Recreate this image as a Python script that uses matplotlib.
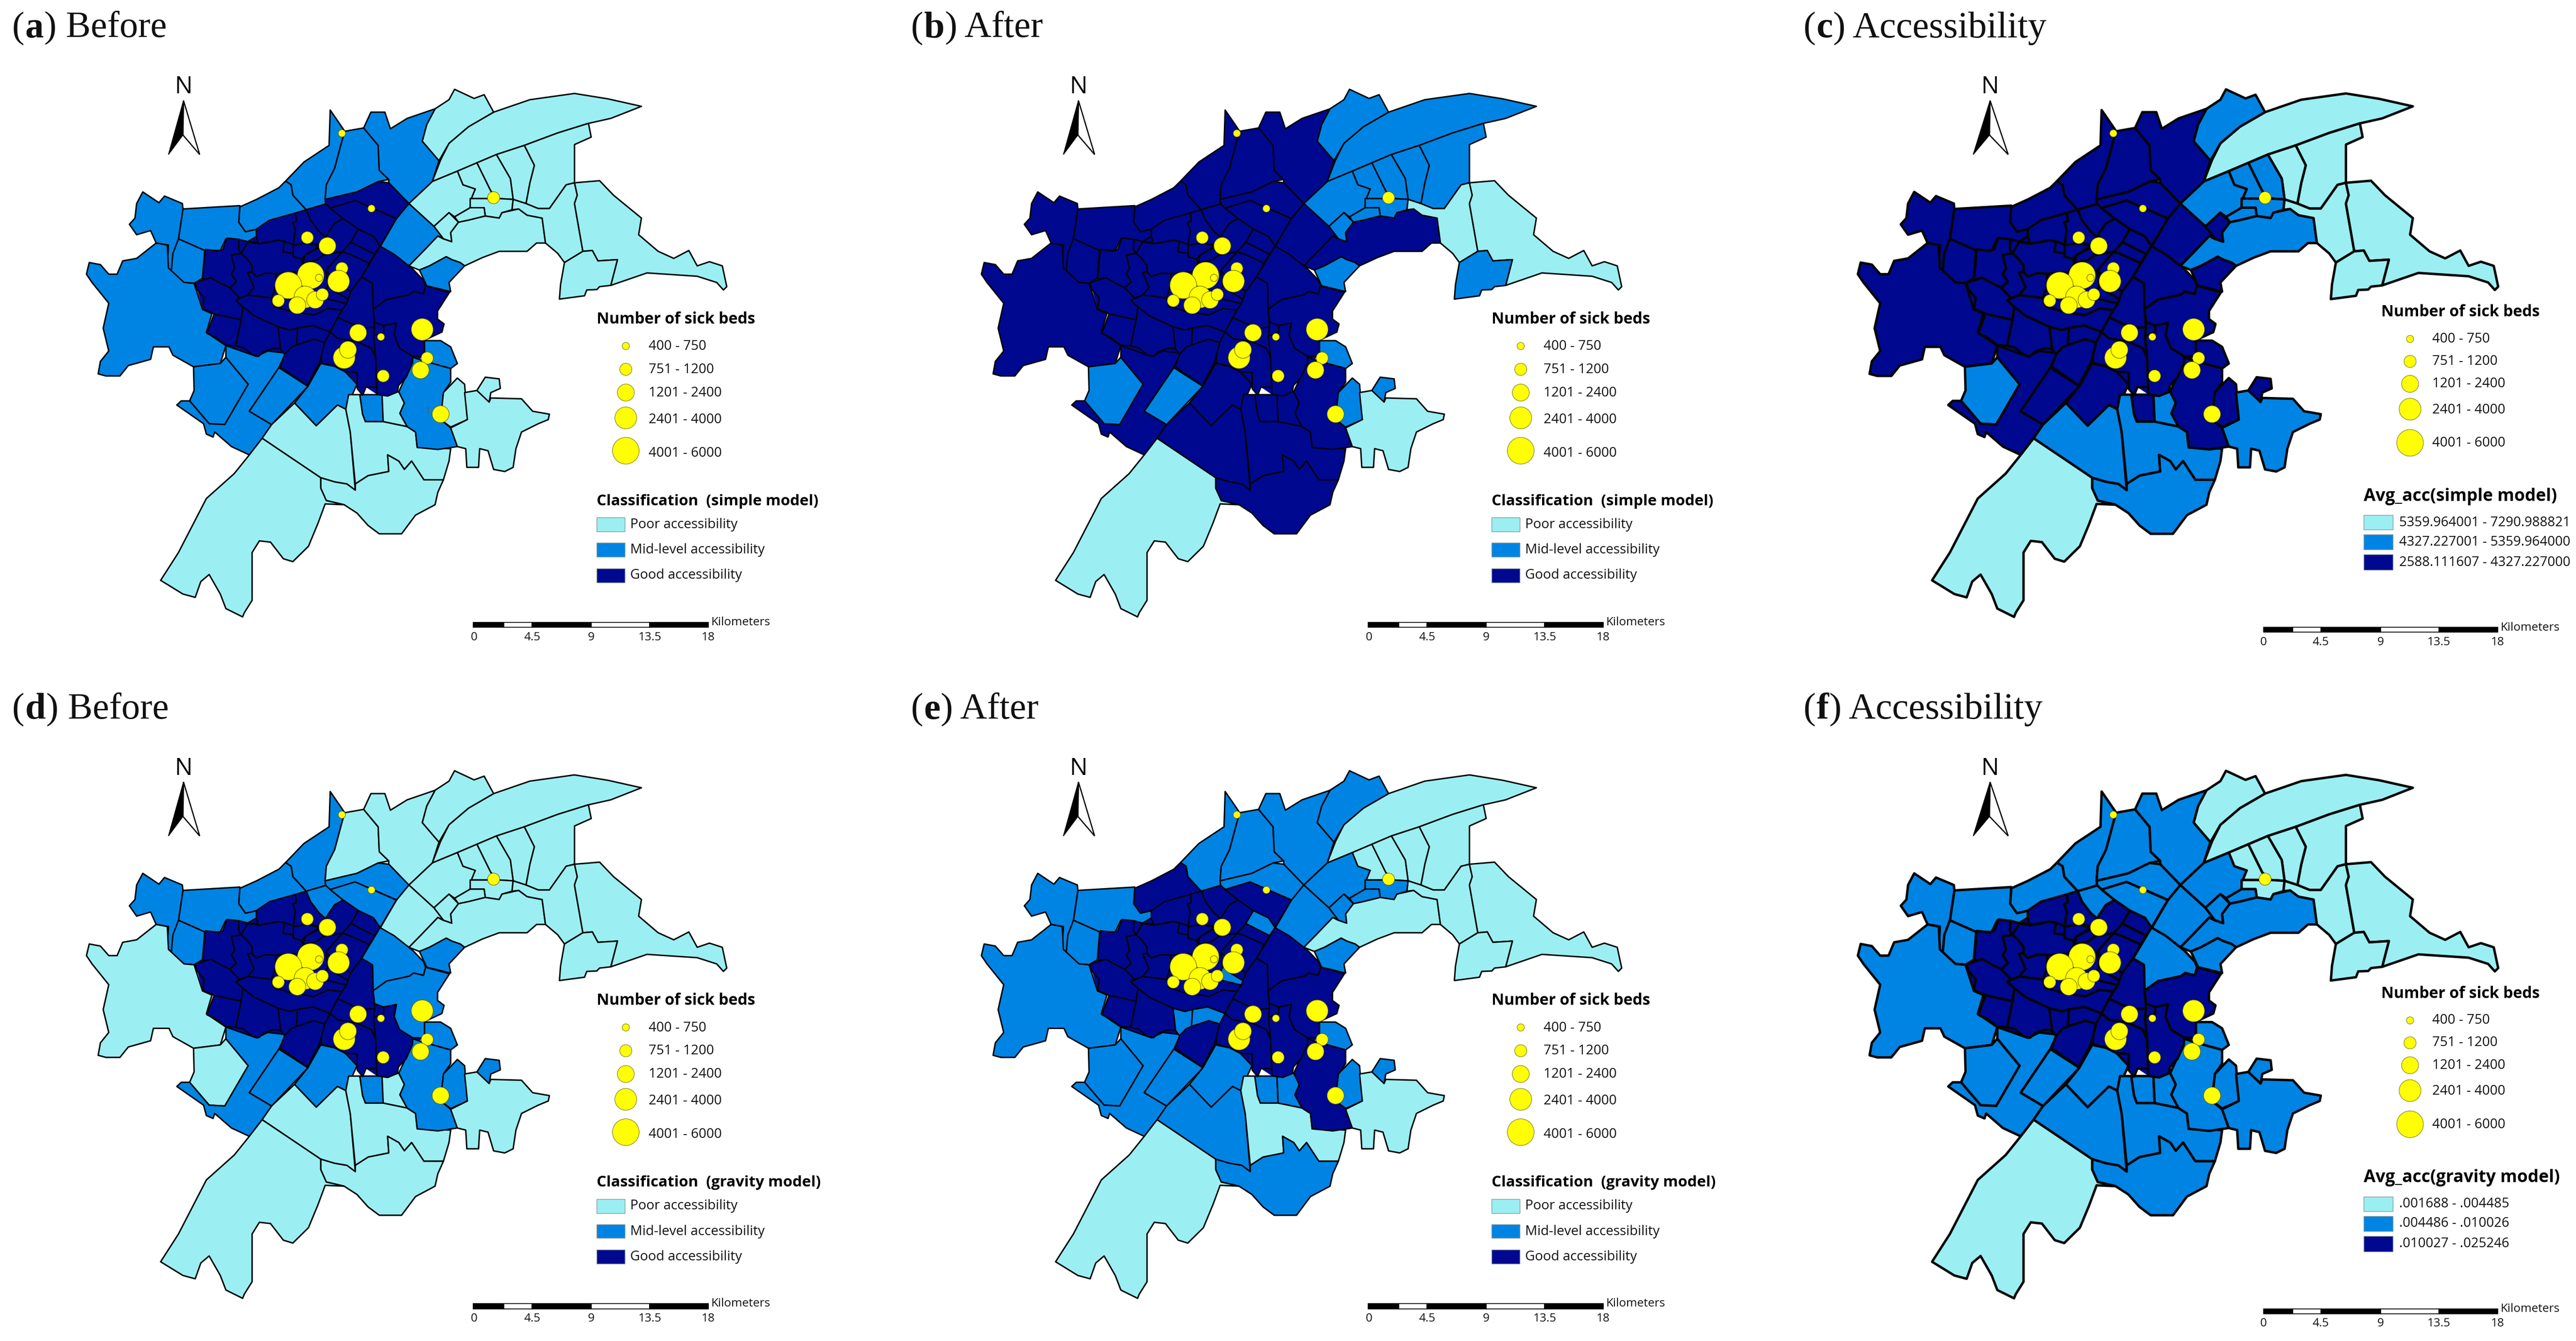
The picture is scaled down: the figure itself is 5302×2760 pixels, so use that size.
import matplotlib
matplotlib.use("Agg")
import matplotlib.pyplot as plt
from matplotlib.patches import Polygon, Rectangle

W, H, DPI = 5302, 2760, 100
PX_X, PX_Y = 1.148, 0.855   # map unit -> pixel
COL = {"P": "#9BEFF2", "M": "#0084E4", "G": "#000890"}
SANS = "Open Sans"
SERIF = "Liberation Serif"

def core(pts):
    # district corners noted in the finer grid of the city centre
    return [(261.3 + 0.389 * x, 467.8 + 0.39 * y) for x, y in pts]

# ------------------------------------------------------------ districts
DISTRICTS = {
 "core": core([(510,215),(570,160),(740,95),(830,60),(1210,65),(1155,150),(1080,320),(1145,370),(1280,530),(1400,605),(1345,720),(1345,770),(1375,800),(1365,850),(1285,900),(1285,1000),(1230,1040),(1165,1180),(1160,1220),(1065,1235),(1015,1190),(1000,1240),(975,1200),(920,1095),(810,1040),(745,1180),(620,1065),(640,988),(545,970),(490,990),(370,932),(282,858),(315,738),(262,705),(228,545),(262,525),(275,340),(355,340),(375,270),(470,292),(510,260)]),
 "ne_band": [(775,437),(790,385),(805,345),(840,305),(885,270),(950,240),(1030,225),(1090,238),(1150,256),(1095,285),(1055,297),(1000,320),(940,350),(890,372),(855,392),(820,412)],
 "north_top": [(757,340),(765,300),(780,262),(805,240),(815,215),(850,237),(868,228),(885,270),(840,305),(805,345),(787,387)],
 "ne_right": [(1055,297),(1060,330),(1030,348),(1030,440),(1015,445),(985,502),(965,502),(943,490),(950,440),(958,398),(940,350),(1000,320)],
 "ne_s1": [(890,372),(940,350),(958,398),(950,440),(943,490),(920,480),(915,430)],
 "ne_s2": [(855,392),(890,372),(915,430),(920,480),(895,478),(880,460)],
 "ne_s3": [(820,412),(855,392),(880,460),(895,478),(845,478),(852,455),(830,445)],
 "ne_w": [(733,490),(775,437),(820,412),(830,445),(852,455),(845,478),(843,500),(815,522),(805,512),(778,545)],
 "hosp_ne": [(843,478),(895,478),(920,480),(918,505),(900,512),(895,525),(870,520),(868,500),(843,500)],
 "small_ne": [(815,522),(843,500),(868,500),(870,520),(840,530),(822,535)],
 "diamond": [(778,545),(805,512),(822,535),(808,560),(810,582),(795,575)],
 "e_band": [(733,640),(755,610),(785,568),(795,575),(810,582),(808,560),(822,535),(840,530),(870,520),(895,525),(900,512),(930,503),(945,518),(972,525),(978,585),(962,585),(945,605),(895,605),(865,620),(833,640),(825,632),(810,625),(800,618),(770,640),(752,650)],
 "e_mid": [(918,505),(920,480),(943,490),(965,502),(985,502),(1015,445),(1030,440),(1035,470),(1030,490),(1045,605),(1012,632),(1000,610),(978,585),(972,525),(945,518),(930,503)],
 "far_e": [(1030,440),(1075,435),(1100,470),(1150,525),(1145,565),(1180,605),(1208,622),(1235,603),(1250,640),(1272,630),(1295,640),(1303,690),(1297,698),(1285,680),(1250,665),(1160,657),(1095,687),(1107,625),(1072,628),(1062,603),(1045,605),(1030,490),(1035,470)],
 "far_se": [(1012,632),(1045,605),(1062,603),(1072,628),(1107,625),(1095,687),(1075,690),(1070,697),(1052,698),(1048,712),(1003,720),(1005,685)],
 "mid_ne": [(733,490),(778,545),(795,575),(785,568),(755,610),(733,640),(682,593),(711,526)],
 "coast_n": [(752,650),(770,640),(800,618),(810,625),(825,632),(833,640),(805,680),(808,702),(765,688)],
 "n1": [(592,265),(610,300),(618,316),(612,345),(600,405),(585,445),(583,480),(584,491),(549,505),(525,470),(522,445),(512,436),(545,390),(590,350)],
 "n2": [(618,316),(652,308),(678,350),(680,410),(697,432),(678,437),(640,462),(583,480),(585,445),(600,405),(612,345)],
 "n3": [(652,308),(665,270),(690,270),(700,310),(730,285),(780,262),(765,300),(757,340),(787,387),(775,437),(733,490),(697,440),(697,432),(680,410),(678,350)],
 "nw1": [(430,498),(460,480),(500,452),(512,436),(522,445),(525,470),(549,505),(460,552),(440,558),(428,535)],
 "nw2": [(328,503),(430,495),(428,535),(440,558),(460,552),(460,570),(448,585),(430,578),(405,575),(395,603),(367,603),(320,575)],
 "spike": [(245,490),(256,462),(285,488),(295,472),(327,490),(328,503),(320,575),(307,655),(300,645),(302,590),(280,585),(270,555),(245,565),(232,540),(242,525)],
 "nw3": [(320,575),(367,603),(363,670),(348,682),(330,680),(307,655),(310,610)],
 "west": [(155,660),(160,632),(180,637),(195,660),(210,660),(220,628),(245,622),(280,585),(300,590),(302,645),(330,680),(348,682),(363,745),(380,755),(370,800),(405,832),(395,875),(347,883),(310,855),(303,835),(275,835),(270,865),(230,880),(215,905),(190,905),(176,900),(180,870),(195,845),(185,790),(195,730),(165,680)],
 "sw_b": [(347,883),(395,875),(405,860),(445,925),(403,1022),(375,1020),(340,965),(348,940)],
 "sw_c": [(405,832),(460,858),(480,845),(512,850),(500,885),(447,990),(487,1022),(470,1055),(447,1095),(415,1075),(385,1040),(382,1052),(370,1045),(365,1020),(317,975),(325,965),(340,965),(375,1020),(403,1022),(445,925),(405,860)],
 "sw_d": [(500,885),(552,930),(487,1022),(447,990)],
 "s_e": [(552,930),(575,875),(600,882),(619,895),(640,925),(620,985),(605,975),(567,1025),(528,970)],
 "s_f": [(645,950),(685,950),(687,1015),(655,1015),(650,997)],
 "s_h": [(685,950),(715,943),(725,970),(717,995),(730,1027),(687,1015)],
 "s_c1": [(528,970),(567,1025),(605,975),(620,985),(628,1040),(637,1180),(622,1165),(600,1160),(575,1150),(470,1055),(487,1022)],
 "s_c2": [(625,950),(645,950),(650,997),(655,1015),(687,1015),(730,1027),(745,1040),(748,1077),(808,1080),(805,1110),(795,1155),(760,1155),(738,1110),(725,1130),(715,1110),(695,1095),(697,1135),(660,1145),(637,1165),(628,1040),(620,985)],
 "s_c3": [(575,1150),(600,1160),(622,1165),(637,1180),(637,1165),(660,1145),(697,1135),(695,1095),(715,1110),(725,1130),(738,1110),(760,1155),(795,1155),(785,1185),(780,1215),(745,1240),(720,1285),(680,1285),(660,1265),(640,1235),(617,1215),(585,1205),(575,1175)],
 "far_sw": [(447,1095),(470,1055),(575,1150),(575,1175),(585,1205),(617,1215),(583,1213),(570,1260),(553,1315),(525,1352),(508,1345),(485,1305),(465,1302),(452,1330),(452,1445),(438,1475),(435,1485),(405,1465),(395,1430),(375,1383),(360,1400),(350,1438),(328,1430),(288,1397),(320,1330),(370,1200),(420,1140)],
 "coast_m": [(760,820),(790,820),(808,835),(820,875),(808,887),(762,870)],
 "coast_s": [(740,860),(762,870),(808,887),(808,920),(795,945),(790,1010),(808,1030),(820,1075),(785,1082),(748,1077),(745,1040),(730,1027),(717,995),(725,970),(715,943),(728,905)],
 "island": [(795,945),(820,910),(833,925),(838,1010),(808,1028),(790,1010)],
 "hook": [(855,940),(870,908),(895,912),(897,935),(880,945),(877,968),(858,950)],
 "se_big": [(808,1030),(838,1010),(833,945),(855,940),(877,968),(880,958),(935,960),(955,990),(985,997),(983,1010),(965,1020),(935,1040),(925,1080),(920,1125),(905,1135),(885,1130),(875,1085),(860,1080),(858,1125),(837,1125),(835,1080),(820,1075)],
 "ntop": [(583,480),(640,462),(678,437),(697,440),(733,490),(711,526),(637,483),(592,501),(584,491)],
 "w1": core([(275,340),(335,350),(355,340),(375,270),(430,278),(428,340),(440,365),(395,375),(410,460),(395,490),(418,540),(388,578),(340,545),(300,515),(262,525)]),
 "w2": core([(430,278),(470,292),(510,260),(520,295),(470,295),(440,365),(428,340)]),
 "w3": core([(440,365),(470,295),(520,305),(570,295),(610,283),(640,290),(632,355),(680,365),(680,385),(718,400),(725,425),(700,480),(600,490),(555,487),(510,508),(490,480),(490,440),(465,395)]),
 "w4": core([(395,375),(440,365),(465,395),(490,440),(490,480),(470,482),(500,575),(470,622),(432,640),(388,578),(418,540),(395,490),(410,460)]),
 "w5": core([(470,482),(490,480),(510,508),(555,487),(600,490),(600,560),(580,640),(470,622),(500,575)]),
 "t1": core([(510,215),(570,160),(690,115),(695,165),(678,175),(690,220),(680,310),(640,290),(610,283),(520,305),(510,260)]),
 "t2": core([(690,115),(740,95),(760,160),(800,230),(830,265),(800,310),(745,300),(680,315),(690,220),(678,175),(695,165)]),
 "t3": core([(680,315),(745,300),(800,320),(735,375),(718,400),(680,385)]),
 "t4": core([(735,375),(800,330),(820,375),(790,405),(745,420),(725,425)]),
 "t5": core([(740,95),(830,60),(850,85),(910,150),(870,180),(840,240),(830,265),(800,230),(760,160)]),
 "t6": core([(850,85),(965,38),(1155,150),(1080,320),(1050,260),(980,215),(910,150)]),
 "t7": core([(980,215),(1050,260),(1080,320),(1055,370),(945,295)]),
 "t8": core([(945,295),(1055,370),(1030,425),(940,370),(905,355),(930,320)]),
 "t9": core([(830,265),(840,240),(870,180),(910,150),(980,215),(945,295),(930,320),(905,355),(880,360),(820,375),(800,320)]),
 "c1": core([(905,355),(940,370),(1030,425),(995,510),(945,600),(880,540),(830,470)]),
 "c2": core([(830,470),(880,540),(945,600),(935,650),(880,605),(840,560)]),
 "c3": core([(840,560),(880,605),(935,650),(925,675),(815,640)]),
 "c4": core([(700,480),(725,425),(790,405),(820,375),(880,360),(905,355),(830,470),(840,560),(815,640),(700,700),(600,560),(600,490)]),
 "c5": core([(600,560),(700,700),(815,640),(925,675),(905,715),(840,705),(775,745),(725,735),(660,720),(590,690),(580,640)]),
 "l1": core([(415,655),(470,622),(580,640),(590,690),(660,720),(725,735),(775,745),(840,705),(905,715),(885,760),(850,850),(770,810),(700,825),(665,838),(610,818),(500,750),(448,695)]),
 "w6": core([(228,545),(300,515),(340,545),(388,578),(432,640),(415,655),(448,695),(440,775),(315,738),(262,705),(270,640),(235,585)]),
 "w7": core([(315,738),(440,775),(415,935),(370,932),(325,885),(282,858)]),
 "w8": core([(440,775),(448,695),(500,750),(610,818),(622,955),(590,950),(545,970),(520,1000),(490,990),(450,945),(415,935)]),
 "w9": core([(610,818),(665,838),(700,825),(695,930),(670,945),(640,988),(622,955)]),
 "w10": core([(700,825),(770,810),(850,850),(825,915),(775,895),(695,930)]),
 "s1": core([(640,988),(670,945),(695,930),(775,895),(825,915),(810,995),(800,1040),(745,1180),(620,1065)]),
 "r17": core([(1080,320),(1145,370),(1230,460),(1280,530),(1290,565),(1280,615),(1235,600),(1215,620),(1110,650),(1048,710),(1045,550),(995,510)]),
 "r18": core([(1048,710),(1110,650),(1215,620),(1235,600),(1280,615),(1290,565),(1400,605),(1345,720),(1345,770),(1375,800),(1365,850),(1285,900),(1285,1000),(1230,1000),(1170,950),(1145,870),(1155,795),(1097,810),(1055,790)]),
 "r19": core([(995,510),(1045,550),(1048,710),(1055,820),(1000,825),(950,800),(885,760),(905,715),(925,675),(945,600)]),
 "se1": core([(850,850),(885,760),(950,800),(1000,825),(1055,820),(1050,875),(1060,1010),(1040,950),(975,910),(885,890)]),
 "se2": core([(850,850),(885,890),(975,910),(1040,950),(1060,1010),(1065,1190),(1015,1190),(1000,1240),(975,1200),(975,1100),(920,1095),(870,1060),(810,1040),(810,995),(825,915)]),
 "z": core([(1050,875),(1097,850),(1097,810),(1155,795),(1145,870),(1170,950),(1230,1000),(1230,1040),(1200,1130),(1165,1180),(1160,1220),(1115,1245),(1065,1235),(1065,1190),(1060,1010)]),
}

# class of each district in panels a b c d e f
CLASSES = {
 "core":"GGGGGG","ne_band":"PMPPPP","north_top":"PMMPMP","ne_right":"PMPPPP","ne_s1":"PMPPPP",
 "ne_s2":"PMMPPP","ne_s3":"PMMPPP","ne_w":"PMMPMM","hosp_ne":"PMMPMP","small_ne":"PMMPMM",
 "diamond":"PMGPMM","e_band":"PGMPPM","e_mid":"PPPPPP","far_e":"PPPPPP","far_se":"PMPPPP",
 "mid_ne":"MGGPMM","coast_n":"MMGMMM","n1":"MGGMMM","n2":"MGGPMM","n3":"MGGPMM",
 "nw1":"MGGMGM","nw2":"MGGMMM","spike":"MGGMMM","nw3":"MGGMMM","west":"MGGPMM",
 "sw_b":"MMMPMM","sw_c":"MGGMMM","sw_d":"MMGMMM","s_e":"MGGMMM","s_f":"MGGMMM",
 "s_h":"PGMPMM","s_c1":"PGMPMM","s_c2":"PGMPPM","s_c3":"PGMPMM","far_sw":"PPPPPP",
 "coast_m":"MMGMMM","coast_s":"MGGMGM","island":"PMGMMM","hook":"PMGMMM","se_big":"PPMPPM",
 "ntop":"GGGMMM","w1":"GGGGGG","w2":"GGGGGG","w3":"GGGGGG","w4":"GGGGGG","w5":"GGGGGG",
 "t1":"GGGGGG","t2":"GGGGGG","t3":"GGGGGG","t4":"GGGGGG","t5":"GGGMGM","t6":"GGGMGM",
 "t7":"GGGGMG","t8":"GGGGGG","t9":"GGGGGG","c1":"GGGGGG","c2":"GGGGGG","c3":"GGGGMG",
 "c4":"GGGGGG","c5":"GGGGGG","l1":"GGGGGG","w6":"GGGGGG","w7":"GGGGGG","w8":"GGGGGG",
 "w9":"GGGGMG","w10":"GGGGMG","s1":"GGGGGG","r17":"GGGMGM","r18":"GGGMGG","r19":"GGGGGG",
 "se1":"GGGGGG","se2":"GGGGGG","z":"GGGGGG",
}

# ------------------------------------------------------------ hospitals
HOSP_X = [613,666,885,551,587,613,607,557,517,547,565,578,499,533,572,642,683,757,617,624,766,754,687,790]
HOSP_Y = [321,502,476,572,592,646,677,663,687,715,722,709,724,735,669,801,811,793,861,842,862,891,905,997]
HOSP_CLASS = [0,0,1,1,2,1,3,4,4,3,2,1,1,2,0,2,0,3,3,2,1,2,1,2]

BED_LABELS = ["400 - 750","751 - 1200","1201 - 2400","2401 - 4000","4001 - 6000"]
BED_DIAM_PX = [15,25,35,45,55]
CLASS_NAMES = ["Poor accessibility","Mid-level accessibility","Good accessibility"]
SIMPLE_BREAKS = ["5359.964001 - 7290.988821","4327.227001 - 5359.964000","2588.111607 - 4327.227000"]
GRAVITY_BREAKS = [".001688 - .004485",".004486 - .010026",".010027 - .025246"]
SCALE_LABELS = ["0","4.5","9","13.5","18"]

PANELS = [
 dict(k=0,tag="a",name="Before",ox=0,oy=0,tx=25,title="Classification  (simple model)",items=CLASS_NAMES,wide=False,lw=3),
 dict(k=1,tag="b",name="After",ox=1842,oy=0,tx=1875,title="Classification  (simple model)",items=CLASS_NAMES,wide=False,lw=3),
 dict(k=2,tag="c",name="Accessibility",ox=3646,oy=0,tx=3712,title="Avg_acc(simple model)",items=SIMPLE_BREAKS,wide=True,lw=5),
 dict(k=3,tag="d",name="Before",ox=0,oy=1402.5,tx=25,title="Classification  (gravity model)",items=CLASS_NAMES,wide=False,lw=3),
 dict(k=4,tag="e",name="After",ox=1842,oy=1402.5,tx=1875,title="Classification  (gravity model)",items=CLASS_NAMES,wide=False,lw=3),
 dict(k=5,tag="f",name="Accessibility",ox=3646,oy=1402.5,tx=3712,title="Avg_acc(gravity model)",items=GRAVITY_BREAKS,wide=True,lw=5),
]

fig = plt.figure(figsize=(W/DPI, H/DPI), dpi=DPI, facecolor="white")
renderer = fig.canvas.get_renderer()

def panel_title(tx, cy, tag, name):
    x = tx
    for s, w in (("(", "normal"), (tag, "bold"), (") " + name, "normal")):
        t = fig.text(x/W, 1 - cy/H, s, family=SERIF, fontsize=55, weight=w, va="center", ha="left", color="#111111")
        bb = t.get_window_extent(renderer)
        x = bb.x1 + 1

for p in PANELS:
    wpx = min(1790, W - p["ox"])
    hpx = 1345
    ax = fig.add_axes([p["ox"]/W, 1 - (p["oy"] + hpx)/H, wpx/W, hpx/H])
    ax.set_xlim(0, wpx/PX_X)
    ax.set_ylim(hpx/PX_Y, 0)
    ax.axis("off")
    lw_pt = p["lw"] * 72 / DPI
    for name, poly in DISTRICTS.items():
        c = COL[CLASSES[name][p["k"]]]
        edge = "none" if name == "core" else "#050505"
        ax.add_patch(Polygon(poly, closed=True, facecolor=c, edgecolor=edge, lw=lw_pt, joinstyle="round", zorder=2))
    ax.scatter(HOSP_X, HOSP_Y, s=[(BED_DIAM_PX[c]*0.72)**2 for c in HOSP_CLASS], c="#FFFF00",
               edgecolors="#55550A", linewidths=0.7, zorder=4)
    if p["tag"] == "a":
        ax.text(767, 990, "1", fontsize=13, family=SANS, color="#555555", ha="center", va="center", zorder=3)

    wide = p["wide"]
    # north arrow
    ax_n = 392 if wide else 329
    wa = 1.12 if wide else 1.0
    ax.text(ax_n, 210, "N", family=SANS, fontsize=35, ha="center", va="center", color="black")
    tip = (ax_n, 242); bl = (ax_n - 27*wa, 372); mid = (ax_n - 1, 325); br = (ax_n + 29*wa, 372)
    ax.add_patch(Polygon([tip, br, mid], closed=True, facecolor="white", edgecolor="black", lw=1.8, zorder=3))
    ax.add_patch(Polygon([tip, bl, mid], closed=True, facecolor="black", edgecolor="black", lw=1.2, zorder=3))

    # bed legend
    if wide:
        tx0, ty0 = 1093, 752
        cx, lx = 1145, 1185
        cys = [816,870,924,985,1066]
        lys = [816,870,924,987,1067]
        t2x, t2y = 1062, 1195
        sx0, sx1 = 1062, 1114
        boxes = [(1240,1275),(1287,1323),(1335,1372)]
        lbx = 1125
        lby = [1258,1305,1354]
        sb = [882,935,985,1092,1197,1302]; sby = 1516; sly = 1546; kmx, kmy = 1307, 1511
        sbl = [882,985,1092,1197,1302]
        lab_fs, title_fs = 19.8, 25.5
    else:
        tx0, ty0 = 1070, 769
        cx, lx = 1122, 1163
        cys = [833,889,945,1006,1085]
        lys = [834,890,946,1010,1091]
        t2x, t2y = 1070, 1207
        sx0, sx1 = 1070, 1120
        boxes = [(1246,1280),(1307,1340),(1368,1402)]
        lbx = 1130
        lby = [1263,1324,1385]
        sb = [848,903,954,1060,1165,1270]; sby = 1504; sly = 1534; kmx, kmy = 1275, 1498
        sbl = [850,954,1060,1165,1270]
        lab_fs, title_fs = 20, 22.5
    ax.text(tx0, ty0, "Number of sick beds", family=SANS, weight="bold", fontsize=23, ha="left", va="center", color="black")
    ax.scatter([cx]*5, cys, s=[(d*0.72)**2 for d in BED_DIAM_PX], c="#FFFF00", edgecolors="#55550A", linewidths=0.6, zorder=4)
    for y, s in zip(lys, BED_LABELS):
        ax.text(lx, y, s, family=SANS, fontsize=20, ha="left", va="center", color="#111111")
    ax.text(t2x, t2y, p["title"], family=SANS, weight="bold", fontsize=title_fs, ha="left", va="center", color="black")
    for (y0, y1), key, s, y in zip(boxes, "PMG", p["items"], lby):
        ax.add_patch(Rectangle((sx0, y0), sx1 - sx0, y1 - y0, facecolor=COL[key], edgecolor="#8a9a9a", lw=1.0, zorder=3))
        ax.text(lbx, y, s, family=SANS, fontsize=lab_fs, ha="left", va="center", color="#111111")
    # scale bar
    for i in range(5):
        ax.add_patch(Rectangle((sb[i], sby - 6), sb[i+1] - sb[i], 12, facecolor="white" if i in (1, 3) else "black",
                               edgecolor="black", lw=1.2, zorder=3))
    for x, s in zip(sbl, SCALE_LABELS):
        ax.text(x, sly, s, family=SANS, fontsize=17.5, ha="center", va="center", color="#111111")
    ax.text(kmx, kmy, "Kilometers", family=SANS, fontsize=17.5, ha="left", va="center", color="#111111")

    panel_title(p["tx"], p["oy"] + 58, p["tag"], p["name"])

fig.savefig("out.png", dpi=DPI, facecolor="white")
